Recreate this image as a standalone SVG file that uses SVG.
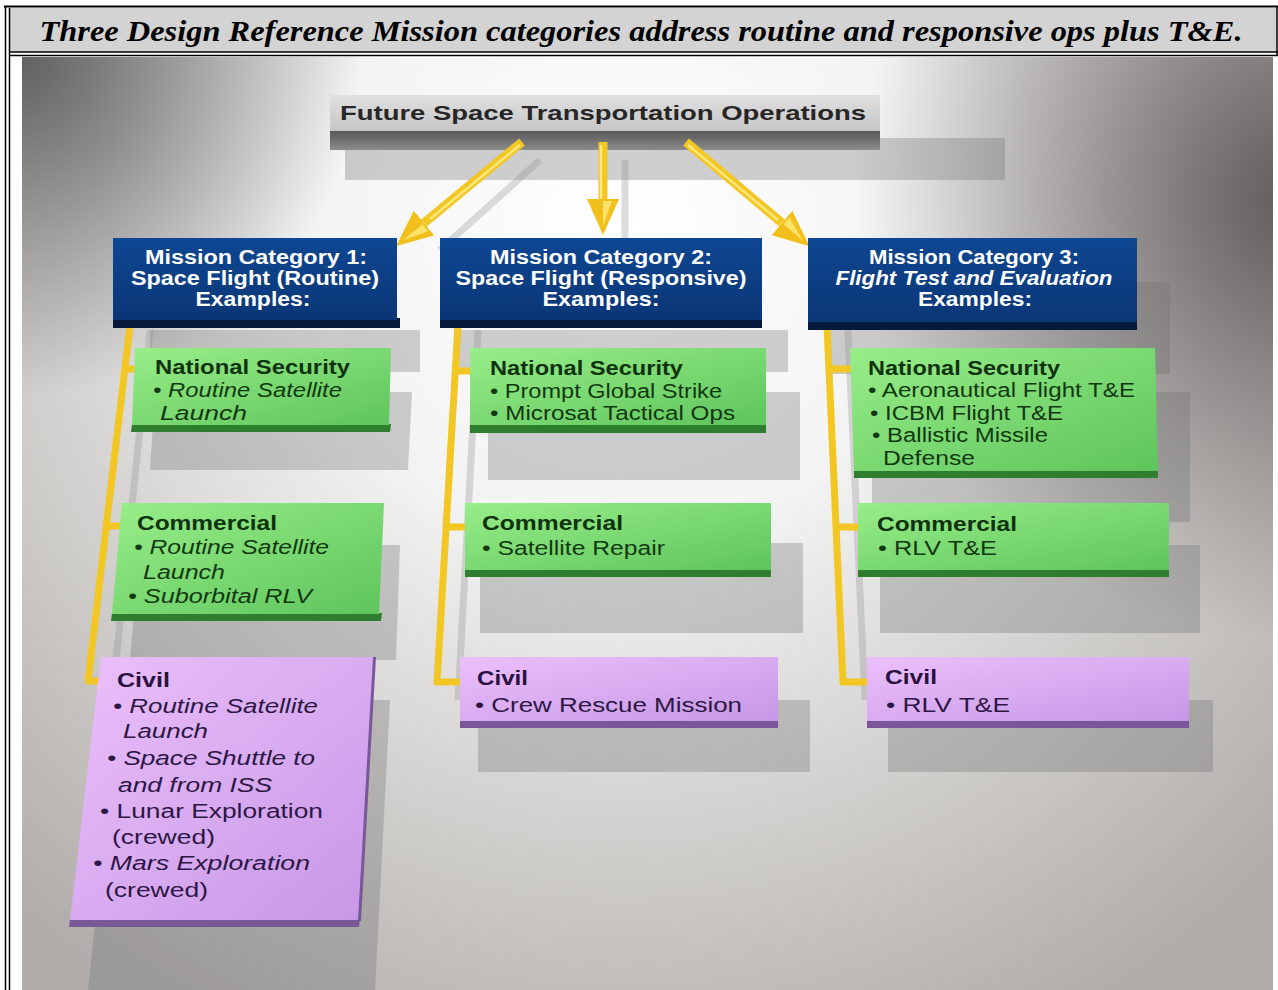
<svg xmlns="http://www.w3.org/2000/svg" width="1278" height="990" viewBox="0 0 1278 990">
<defs>
<radialGradient id="bgMain" gradientUnits="userSpaceOnUse" cx="620" cy="230" r="900">
<stop offset="0" stop-color="#ffffff"/>
<stop offset="0.35" stop-color="#f3f3f3"/>
<stop offset="0.7" stop-color="#cfcdca"/>
<stop offset="1" stop-color="#b0adaa"/>
</radialGradient>
<radialGradient id="vigTL" gradientUnits="userSpaceOnUse" cx="22" cy="57" r="340">
<stop offset="0" stop-color="#555555" stop-opacity="0.9"/>
<stop offset="1" stop-color="#555555" stop-opacity="0"/>
</radialGradient>
<radialGradient id="vigTR" gradientUnits="userSpaceOnUse" cx="1295" cy="200" r="440">
<stop offset="0" stop-color="#4f4949" stop-opacity="0.85"/>
<stop offset="1" stop-color="#4f4949" stop-opacity="0"/>
</radialGradient>
<linearGradient id="gGreen" x1="0" y1="0" x2="1" y2="1">
<stop offset="0" stop-color="#98ee88"/>
<stop offset="1" stop-color="#5ec45c"/>
</linearGradient>
<linearGradient id="gPurple" x1="0" y1="0" x2="1" y2="1">
<stop offset="0" stop-color="#ecbffb"/>
<stop offset="1" stop-color="#c697e6"/>
</linearGradient>
<linearGradient id="gBlue" x1="0" y1="0" x2="0" y2="1">
<stop offset="0" stop-color="#0e4792"/>
<stop offset="1" stop-color="#0a3676"/>
</linearGradient>
<linearGradient id="gTop" x1="0" y1="0" x2="0" y2="1">
<stop offset="0" stop-color="#e0e0e0"/>
<stop offset="1" stop-color="#c6c6c6"/>
</linearGradient>
<linearGradient id="gTopSide" x1="0" y1="0" x2="0" y2="1">
<stop offset="0" stop-color="#555555"/>
<stop offset="1" stop-color="#8c8c8c"/>
</linearGradient>
<marker id="ah" markerUnits="userSpaceOnUse" markerWidth="36" markerHeight="32" viewBox="0 0 36 32" refX="0" refY="16" orient="auto">
<path d="M0,0 L36,16 L0,32 Z" fill="#f2c01c"/>
<path d="M2,7 L27,16 L2,16 Z" fill="#fbe36a"/>
</marker>
<clipPath id="imgClip"><rect x="22" y="57" width="1251" height="933"/></clipPath>
</defs>
<style>
.t{font-family:"Liberation Sans",Arial,sans-serif}
.hdr{font-weight:bold;font-size:20px;fill:#ffffff;text-anchor:middle}
.gh{font-weight:bold;font-size:20px;fill:#0f320f}
.gt{font-size:20px;fill:#123812}
.ph{font-weight:bold;font-size:20px;fill:#2a1240}
.pt{font-size:20px;fill:#2d1745}
.it{font-style:italic}
.shadow{fill:#6f6f6f;opacity:0.32}
.green{fill:url(#gGreen)}
.gedge{fill:#2f7d2f}
.purple{fill:url(#gPurple)}
.pedge{fill:#7a5798}
.blue{fill:url(#gBlue)}
.bedge{fill:#051a3c}
.yl{fill:none;stroke:#f2c623;stroke-width:7;stroke-linejoin:round}
.yh{fill:none;stroke:#fde77a;stroke-width:2.5}
.gl{fill:none;stroke:#8a8a8a;stroke-width:7;opacity:0.3}
</style>
<rect x="0" y="0" width="1278" height="990" fill="#ffffff"/>
<!-- frame and title -->
<rect x="10" y="8" width="1267" height="44" fill="#d3d3d3"/>
<line x1="4" y1="6.5" x2="1278" y2="6.5" stroke="#000" stroke-width="2"/>
<line x1="9" y1="52" x2="1278" y2="52" stroke="#000" stroke-width="1.5"/>
<line x1="9" y1="55.5" x2="1278" y2="55.5" stroke="#000" stroke-width="1.5"/>
<line x1="5.5" y1="6" x2="5.5" y2="990" stroke="#000" stroke-width="1.5"/>
<line x1="9.5" y1="8" x2="9.5" y2="990" stroke="#000" stroke-width="1.5"/>
<line x1="1277" y1="6" x2="1277" y2="56" stroke="#000" stroke-width="1.5"/>
<text x="641" y="41" text-anchor="middle" font-family="'Liberation Serif','Times New Roman',serif" font-weight="bold" font-style="italic" font-size="29" textLength="1203" lengthAdjust="spacingAndGlyphs" fill="#000">Three Design Reference Mission categories address routine and responsive ops plus T&amp;E.</text>
<!-- background scene -->
<g clip-path="url(#imgClip)">
<rect x="22" y="57" width="1251" height="933" fill="url(#bgMain)"/>
<rect x="22" y="57" width="1251" height="933" fill="url(#vigTL)"/>
<rect x="22" y="57" width="1251" height="933" fill="url(#vigTR)"/>
<!-- shadows -->
<rect class="shadow" x="345" y="138" width="660" height="42" opacity="0.22"/>
<polygon class="shadow" points="150,330 420,330 420,372 150,372"/>
<polygon class="shadow" points="155,392 412,392 408,470 150,470"/>
<polygon class="shadow" points="140,545 400,545 396,660 130,660"/>
<polygon class="shadow" points="118,700 390,700 375,990 88,990"/>
<rect class="shadow" x="458" y="330" width="330" height="42"/>
<rect class="shadow" x="488" y="392" width="312" height="88"/>
<rect class="shadow" x="480" y="543" width="323" height="90"/>
<rect class="shadow" x="478" y="700" width="332" height="72"/>
<rect class="shadow" x="830" y="282" width="340" height="92"/>
<rect class="shadow" x="872" y="392" width="318" height="130"/>
<rect class="shadow" x="880" y="545" width="320" height="88"/>
<rect class="shadow" x="888" y="700" width="325" height="72"/>
<!-- connector shadows -->
<path class="gl" d="M150,330 L112,700"/>
<path class="gl" d="M478,330 L458,700"/>
<path class="gl" d="M848,330 L865,700"/>
<path class="gl" d="M540,160 L440,250"/>
<path class="gl" d="M625,160 L625,245"/>
</g>
<!-- top node -->
<g id="top">
<polygon points="330,130 880,130 880,150 330,150" fill="url(#gTopSide)"/>
<rect x="330" y="95" width="550" height="36" fill="url(#gTop)"/>
<text class="t" x="603" y="120" text-anchor="middle" font-weight="bold" font-size="21" fill="#262626" textLength="526" lengthAdjust="spacingAndGlyphs">Future Space Transportation Operations</text>
</g>
<!-- connectors -->
<g id="connectors">
<line x1="522" y1="142" x2="424" y2="223" stroke="#f2c623" stroke-width="9" marker-end="url(#ah)"/>
<line x1="603" y1="142" x2="603" y2="199" stroke="#f2c623" stroke-width="9" marker-end="url(#ah)"/>
<line x1="686" y1="142" x2="782" y2="223" stroke="#f2c623" stroke-width="9" marker-end="url(#ah)"/>
<line x1="520" y1="145" x2="430" y2="219" class="yh"/>
<line x1="601" y1="145" x2="601" y2="199" class="yh"/>
<line x1="688" y1="145" x2="778" y2="220" class="yh"/>
<path class="yl" d="M130,325 L88,681 L101,681 M124,369 L137,369 M107,526 L123,526"/>
<path class="yl" d="M458,325 L437,682 L461,682 M455,371 L472,371 M447,527 L467,527"/>
<path class="yl" d="M827,325 L843,682 L868,682 M829,369 L852,369 M836,527 L859,527"/>
</g>
<!-- category 1 -->
<g id="cat1">
<polygon class="bedge" points="113,318 400,318 400,328 113,328"/>
<rect class="blue" x="113" y="238" width="284" height="82"/>
<text class="t hdr" x="256" y="264" textLength="222" lengthAdjust="spacingAndGlyphs">Mission Category 1:</text>
<text class="t hdr" x="255" y="285" textLength="248" lengthAdjust="spacingAndGlyphs">Space Flight (Routine)</text>
<text class="t hdr" x="253" y="306" textLength="115" lengthAdjust="spacingAndGlyphs">Examples:</text>
</g>
<g id="cat1-ns">
<polygon class="gedge" points="132,424 391,424 390,432 131,432"/>
<polygon class="green" points="135,348 391,348 389,425 132,425"/>
<text class="t gh" x="155" y="374" textLength="195" lengthAdjust="spacingAndGlyphs">National Security</text>
<text class="t gt it" x="153" y="397" textLength="189" lengthAdjust="spacingAndGlyphs">• Routine Satellite</text>
<text class="t gt it" x="160" y="420" textLength="87" lengthAdjust="spacingAndGlyphs">Launch</text>
</g>
<g id="cat1-com">
<polygon class="gedge" points="112,613 382,613 381,621 111,621"/>
<polygon class="green" points="122,503 384,503 379,614 112,614"/>
<text class="t gh" x="137" y="530" textLength="140" lengthAdjust="spacingAndGlyphs">Commercial</text>
<text class="t gt it" x="134" y="554" textLength="195" lengthAdjust="spacingAndGlyphs">• Routine Satellite</text>
<text class="t gt it" x="143" y="579" textLength="82" lengthAdjust="spacingAndGlyphs">Launch</text>
<text class="t gt it" x="128" y="603" textLength="184" lengthAdjust="spacingAndGlyphs">• Suborbital RLV</text>
</g>
<g id="cat1-civil">
<polygon class="pedge" points="70,919 360,919 359,927 69,927"/>
<polygon class="pedge" points="372,657 376,657 361,921 357,921"/>
<polygon class="purple" points="101,657 373,657 358,920 70,920"/>
<text class="t ph" x="117" y="687" font-size="22" textLength="53" lengthAdjust="spacingAndGlyphs">Civil</text>
<text class="t pt it" x="113" y="713" font-size="22" textLength="205" lengthAdjust="spacingAndGlyphs">• Routine Satellite</text>
<text class="t pt it" x="123" y="738" font-size="22" textLength="85" lengthAdjust="spacingAndGlyphs">Launch</text>
<text class="t pt it" x="107" y="765" font-size="22" textLength="208" lengthAdjust="spacingAndGlyphs">• Space Shuttle to</text>
<text class="t pt it" x="118" y="792" font-size="22" textLength="154" lengthAdjust="spacingAndGlyphs">and from ISS</text>
<text class="t pt" x="100" y="818" font-size="22" textLength="223" lengthAdjust="spacingAndGlyphs">• Lunar Exploration</text>
<text class="t pt" x="112" y="844" font-size="22" textLength="103" lengthAdjust="spacingAndGlyphs">(crewed)</text>
<text class="t pt it" x="93" y="870" font-size="22" textLength="217" lengthAdjust="spacingAndGlyphs">• Mars Exploration</text>
<text class="t pt" x="105" y="897" font-size="22" textLength="103" lengthAdjust="spacingAndGlyphs">(crewed)</text>
</g>
<!-- category 2 -->
<g id="cat2">
<rect class="bedge" x="440" y="318" width="322" height="10"/>
<rect class="blue" x="440" y="238" width="322" height="82"/>
<text class="t hdr" x="601" y="264" textLength="222" lengthAdjust="spacingAndGlyphs">Mission Category 2:</text>
<text class="t hdr" x="601" y="285" textLength="291" lengthAdjust="spacingAndGlyphs">Space Flight (Responsive)</text>
<text class="t hdr" x="601" y="306" textLength="117" lengthAdjust="spacingAndGlyphs">Examples:</text>
</g>
<g id="cat2-ns">
<rect class="gedge" x="470" y="424" width="296" height="9"/>
<rect class="green" x="470" y="348" width="296" height="77"/>
<text class="t gh" x="490" y="375" textLength="193" lengthAdjust="spacingAndGlyphs">National Security</text>
<text class="t gt" x="490" y="397.5" textLength="232" lengthAdjust="spacingAndGlyphs">• Prompt Global Strike</text>
<text class="t gt" x="490" y="420" textLength="245" lengthAdjust="spacingAndGlyphs">• Microsat Tactical Ops</text>
</g>
<g id="cat2-com">
<rect class="gedge" x="465" y="569" width="306" height="8"/>
<rect class="green" x="465" y="503" width="306" height="67"/>
<text class="t gh" x="482" y="530" textLength="141" lengthAdjust="spacingAndGlyphs">Commercial</text>
<text class="t gt" x="482" y="555" textLength="183" lengthAdjust="spacingAndGlyphs">• Satellite Repair</text>
</g>
<g id="cat2-civil">
<rect class="pedge" x="460" y="720" width="318" height="8"/>
<rect class="purple" x="460" y="657" width="318" height="64"/>
<text class="t ph" x="477" y="685" textLength="51" lengthAdjust="spacingAndGlyphs">Civil</text>
<text class="t pt" x="475" y="712" textLength="267" lengthAdjust="spacingAndGlyphs">• Crew Rescue Mission</text>
</g>
<!-- category 3 -->
<g id="cat3">
<rect class="bedge" x="808" y="320" width="329" height="10"/>
<rect class="blue" x="808" y="238" width="329" height="84"/>
<text class="t hdr" x="974" y="264" textLength="210" lengthAdjust="spacingAndGlyphs">Mission Category 3:</text>
<text class="t hdr it" x="974" y="285" textLength="277" lengthAdjust="spacingAndGlyphs">Flight Test and Evaluation</text>
<text class="t hdr" x="975" y="306" textLength="114" lengthAdjust="spacingAndGlyphs">Examples:</text>
</g>
<g id="cat3-ns">
<polygon class="gedge" points="854,470 1158,470 1158,478 854,478"/>
<polygon class="green" points="850,348 1155,348 1158,471 854,471"/>
<text class="t gh" x="868" y="374.5" textLength="192" lengthAdjust="spacingAndGlyphs">National Security</text>
<text class="t gt" x="868" y="397" textLength="267" lengthAdjust="spacingAndGlyphs">• Aeronautical Flight T&amp;E</text>
<text class="t gt" x="870" y="419.5" textLength="193" lengthAdjust="spacingAndGlyphs">• ICBM Flight T&amp;E</text>
<text class="t gt" x="872" y="442" textLength="176" lengthAdjust="spacingAndGlyphs">• Ballistic Missile</text>
<text class="t gt" x="883" y="464.5" textLength="92" lengthAdjust="spacingAndGlyphs">Defense</text>
</g>
<g id="cat3-com">
<rect class="gedge" x="858" y="569" width="311" height="8"/>
<rect class="green" x="858" y="503" width="311" height="67"/>
<text class="t gh" x="877" y="531" textLength="140" lengthAdjust="spacingAndGlyphs">Commercial</text>
<text class="t gt" x="878" y="555" textLength="119" lengthAdjust="spacingAndGlyphs">• RLV T&amp;E</text>
</g>
<g id="cat3-civil">
<rect class="pedge" x="867" y="720" width="322" height="8"/>
<rect class="purple" x="867" y="657" width="322" height="64"/>
<text class="t ph" x="885" y="684" textLength="52" lengthAdjust="spacingAndGlyphs">Civil</text>
<text class="t pt" x="886" y="712" textLength="124" lengthAdjust="spacingAndGlyphs">• RLV T&amp;E</text>
</g>
</svg>
